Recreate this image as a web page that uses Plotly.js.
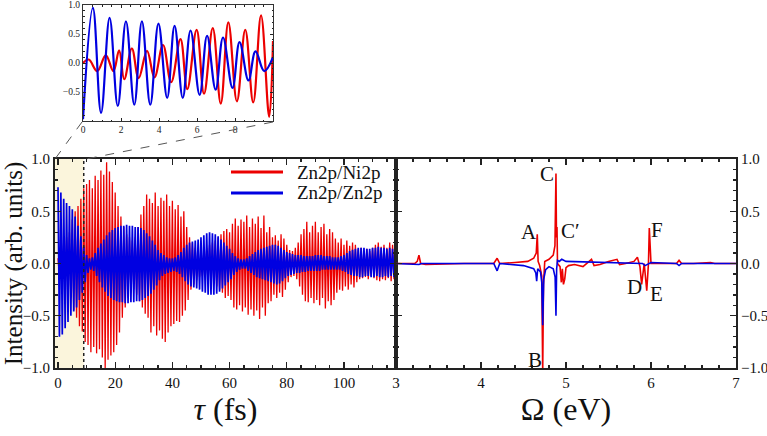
<!DOCTYPE html>
<html><head><meta charset="utf-8">
<script src="https://cdn.plot.ly/plotly-3.0.1.min.js"></script>
<style>html,body{margin:0;padding:0;background:#fff}#chart{width:767px;height:436px}</style>
</head><body><div id="chart"></div>
<script>
// ---------- data ----------
const tau_fs = [0,1,2,3,4,5,6,7,8,9,10,11,12,13,14,15,16,17,18,19,20,21,22,23,24,25,26,27,28,29,30,31,32,33,34,35,36,37,38,39,40,41,42,43,44,45,46,47,48,49,50,51,52,53,54,55,56,57,58,59,60,61,62,63,64,65,66,67,68,69,70,71,72,73,74,75,76,77,78,79,80,81,82,83,84,85,86,87,88,89,90,91,92,93,94,95,96,97,98,99,100,101,102,103,104,105,106,107,108,109,110,111,112,113,114,115,116,117,118];
// oscillation extremes (upper / lower) of each signal per sample
const znni_upper = [0.05,0.12,0.22,0.25,0.30,0.42,0.50,0.55,0.62,0.72,
 0.76,0.80,0.72,0.84,0.80,0.89,0.85,0.97,0.88,0.78,
 0.68,0.55,0.45,0.35,0.28,0.25,0.22,0.25,0.35,0.47,
 0.55,0.66,0.62,0.58,0.68,0.55,0.63,0.60,0.66,0.55,
 0.60,0.52,0.56,0.45,0.50,0.35,0.25,0.20,0.15,0.12,
 0.10,0.12,0.15,0.18,0.20,0.22,0.25,0.28,0.31,0.33,
 0.30,0.38,0.43,0.36,0.42,0.40,0.46,0.35,0.43,0.38,
 0.45,0.34,0.46,0.30,0.35,0.25,0.27,0.22,0.28,0.24,
 0.18,0.13,0.12,0.15,0.20,0.28,0.33,0.40,0.30,0.36,
 0.40,0.30,0.35,0.38,0.28,0.33,0.30,0.24,0.20,0.24,
 0.18,0.22,0.17,0.20,0.18,0.14,0.15,0.12,0.14,0.12,
 0.15,0.18,0.20,0.16,0.18,0.15,0.20,0.18,0.20];
const znni_lower = [-0.13,-0.15,-0.25,-0.26,-0.33,-0.45,-0.52,-0.60,-0.65,-0.75,
 -0.78,-0.85,-0.80,-0.86,-0.82,-0.90,-1.00,-0.92,-0.88,-0.85,
 -0.78,-0.66,-0.52,-0.42,-0.33,-0.28,-0.25,-0.30,-0.36,-0.42,
 -0.48,-0.52,-0.66,-0.60,-0.69,-0.64,-0.72,-0.75,-0.66,-0.60,
 -0.58,-0.55,-0.56,-0.50,-0.45,-0.35,-0.25,-0.20,-0.16,-0.13,
 -0.12,-0.13,-0.15,-0.18,-0.20,-0.22,-0.25,-0.28,-0.33,-0.31,
 -0.35,-0.42,-0.44,-0.40,-0.46,-0.42,-0.49,-0.44,-0.50,-0.45,
 -0.53,-0.42,-0.50,-0.38,-0.36,-0.30,-0.33,-0.28,-0.32,-0.25,
 -0.18,-0.13,-0.12,-0.15,-0.22,-0.30,-0.36,-0.37,-0.33,-0.38,
 -0.35,-0.40,-0.33,-0.43,-0.36,-0.40,-0.35,-0.28,-0.25,-0.26,
 -0.22,-0.25,-0.20,-0.23,-0.18,-0.15,-0.14,-0.13,-0.15,-0.12,
 -0.14,-0.16,-0.17,-0.15,-0.16,-0.14,-0.17,-0.15,-0.16];
const znzn_upper = [0.73,0.68,0.62,0.58,0.55,0.52,0.45,0.36,0.26,0.16,
 0.08,0.05,0.06,0.10,0.15,0.19,0.23,0.27,0.30,0.32,
 0.34,0.35,0.36,0.36,0.37,0.36,0.36,0.35,0.35,0.34,
 0.32,0.29,0.26,0.22,0.18,0.13,0.10,0.08,0.06,0.05,
 0.05,0.06,0.08,0.11,0.15,0.18,0.20,0.21,0.22,0.23,
 0.25,0.27,0.29,0.30,0.29,0.28,0.26,0.23,0.20,0.17,
 0.14,0.10,0.07,0.05,0.04,0.04,0.05,0.07,0.09,0.11,
 0.13,0.14,0.15,0.16,0.17,0.18,0.18,0.17,0.15,0.13,
 0.11,0.10,0.09,0.08,0.08,0.08,0.07,0.07,0.07,0.07,
 0.08,0.08,0.08,0.07,0.07,0.07,0.06,0.06,0.06,0.07,
 0.08,0.10,0.12,0.13,0.14,0.15,0.15,0.15,0.14,0.14,
 0.15,0.15,0.16,0.15,0.15,0.14,0.15,0.14,0.13];
const znzn_lower = [-0.70,-0.68,-0.62,-0.56,-0.50,-0.46,-0.42,-0.35,-0.28,-0.18,
 -0.09,-0.06,-0.07,-0.12,-0.18,-0.23,-0.27,-0.31,-0.33,-0.35,
 -0.36,-0.37,-0.37,-0.38,-0.38,-0.37,-0.37,-0.36,-0.36,-0.35,
 -0.33,-0.31,-0.29,-0.25,-0.21,-0.16,-0.12,-0.10,-0.09,-0.08,
 -0.07,-0.08,-0.10,-0.13,-0.17,-0.20,-0.22,-0.23,-0.24,-0.25,
 -0.27,-0.28,-0.30,-0.30,-0.30,-0.29,-0.27,-0.24,-0.21,-0.18,
 -0.15,-0.11,-0.08,-0.06,-0.05,-0.05,-0.07,-0.09,-0.11,-0.13,
 -0.14,-0.15,-0.16,-0.17,-0.18,-0.19,-0.20,-0.19,-0.17,-0.14,
 -0.12,-0.11,-0.10,-0.09,-0.09,-0.08,-0.08,-0.07,-0.07,-0.07,
 -0.07,-0.07,-0.06,-0.06,-0.06,-0.06,-0.06,-0.06,-0.06,-0.07,
 -0.08,-0.10,-0.11,-0.12,-0.12,-0.13,-0.13,-0.12,-0.12,-0.13,
 -0.13,-0.12,-0.13,-0.13,-0.12,-0.13,-0.12,-0.13,-0.12];

// inset: first 10 fs, extrema of each curve
const inset_tau_red = [0,0.3,0.75,1.2,1.6,1.9,2.17,2.57,2.93,3.37,3.76,4.21,4.64,5.13,5.49,5.98,6.37,6.83,7.25,7.65,8.1,8.54,8.96,9.37,9.8,10.0];
const inset_red     = [0.0,0.06,-0.14,0.13,-0.14,0.22,-0.28,0.25,-0.26,0.21,-0.25,0.31,-0.33,0.41,-0.45,0.57,-0.53,0.6,-0.7,0.7,-0.66,0.57,-0.68,0.82,-0.93,0.38];
const inset_tau_blue = [0,0.52,0.95,1.4,1.83,2.26,2.7,3.1,3.54,3.97,4.43,4.82,5.25,5.66,6.14,6.53,6.98,7.37,7.87,8.24,8.71,9.08,9.54,10.0];
const inset_blue     = [-0.97,0.95,-0.86,0.78,-0.74,0.72,-0.72,0.72,-0.72,0.68,-0.6,0.64,-0.6,0.56,-0.55,0.47,-0.46,0.44,-0.43,0.36,-0.3,0.2,-0.14,0.1];

// spectra
const omega_red = [3.0,3.22,3.25,3.27,3.29,3.35,3.8,4.15,4.19,4.22,4.4,4.55,4.62,4.65,4.662,4.672,4.69,4.715,4.726,4.735,4.75,4.8,4.85,4.87,4.882,4.888,4.894,4.9,4.93,4.945,4.957,4.97,4.985,5.0,5.03,5.1,5.2,5.3,5.33,5.4,5.5,5.6,5.63,5.7,5.8,5.84,5.87,5.89,5.92,5.95,5.97,5.98,6.0,6.1,6.3,6.33,6.36,6.5,6.7,6.75,7.0];
const spec_red  = [0,0,0.02,0.08,0.0,-0.01,0.0,0.0,0.05,0.0,0.01,0.02,0.05,0.1,0.28,0.02,-0.02,-0.12,-1.05,-0.2,0.02,0.04,0.08,0.17,0.86,0.25,0.35,0.0,-0.03,-0.18,-0.05,-0.2,-0.15,-0.04,-0.02,-0.01,-0.03,0.04,-0.02,-0.01,0.02,0.04,-0.01,0.0,0.02,0.06,-0.03,-0.2,0.0,-0.26,0.0,0.34,0.0,0.0,0.0,0.03,0.0,0.0,0.01,0.0,0.0];
const omega_blue = [3.0,3.27,3.3,4.15,4.19,4.22,4.5,4.62,4.645,4.655,4.667,4.7,4.715,4.726,4.738,4.76,4.8,4.85,4.872,4.882,4.89,4.9,4.92,4.95,5.0,5.5,5.9,5.93,6.0,6.3,6.33,6.36,7.0];
const spec_blue  = [0,-0.01,0,0,-0.07,0,-0.02,-0.05,-0.09,-0.17,-0.05,-0.08,-0.18,-0.59,-0.15,-0.06,-0.03,-0.05,-0.13,-0.5,-0.05,0.03,0.02,0.04,0.02,0.01,0.0,-0.02,0.01,0.0,-0.02,0.0,0.0];

const series_names = ['Zn2p/Ni2p', 'Zn2p/Zn2p'];
const peak_labels = ['A','B','C','C′','D','E','F'];
const tau_ticks = [0,20,40,60,80,100];
const inset_tau_ticks = [0,2,4,6,8];
const inset_int_ticks = [-0.5,0,0.5,1];

// ---------- drawing ----------
const RED = 'rgb(236,0,0)', BLUE = 'rgb(0,0,225)';
const FONT = 'Liberation Serif';
const W = 767, H = 436;
const px = v => v / W, py = v => 1 - v / H;

// each sample drawn as one oscillation: up to the upper extreme, down to the lower one
function zigzag(t, up, lo) {
  const x = [], y = [];
  for (let i = 0; i < t.length; i++) {
    x.push(t[i]); y.push(up[i]);
    x.push(t[i] + 0.5); y.push(lo[i]);
  }
  return {x, y};
}
const zr = zigzag(tau_fs, znni_upper, znni_lower);
const zb = zigzag(tau_fs, znzn_upper, znzn_lower);

const traces = [
  {x: zr.x, y: zr.y, name: series_names[0], type: 'scatter', mode: 'lines', line: {color: RED, width: 1.3}, xaxis: 'x', yaxis: 'y', hoverinfo: 'skip'},
  {x: zb.x, y: zb.y, name: series_names[1], type: 'scatter', mode: 'lines', line: {color: BLUE, width: 1.7}, xaxis: 'x', yaxis: 'y', hoverinfo: 'skip'},
  {x: omega_red, y: spec_red, name: series_names[0], type: 'scatter', mode: 'lines', line: {color: RED, width: 1.6}, xaxis: 'x2', yaxis: 'y2'},
  {x: omega_blue, y: spec_blue, name: series_names[1], type: 'scatter', mode: 'lines', line: {color: BLUE, width: 1.6}, xaxis: 'x2', yaxis: 'y2'},
  {x: inset_tau_red, y: inset_red, name: series_names[0], type: 'scatter', mode: 'lines', line: {color: RED, width: 2.2, shape: 'spline', smoothing: 1.1}, xaxis: 'x3', yaxis: 'y3'},
  {x: inset_tau_blue, y: inset_blue, name: series_names[1], type: 'scatter', mode: 'lines', line: {color: BLUE, width: 2.2, shape: 'spline', smoothing: 1.1}, xaxis: 'x3', yaxis: 'y3'}
];

const axBase = {showline: true, linecolor: '#222', linewidth: 2, mirror: 'ticks', ticks: 'inside', ticklen: 6, tickwidth: 1.3, tickcolor: '#222', showgrid: false, zeroline: false, tickfont: {family: FONT, size: 15, color: '#111'}};

const layout = {
  width: W, height: H, margin: {l: 0, r: 0, t: 0, b: 0},
  paper_bgcolor: '#fff', plot_bgcolor: 'rgba(0,0,0,0)', showlegend: false,
  font: {family: FONT, color: '#111'},
  xaxis: Object.assign({}, axBase, {domain: [px(55), px(396)], range: [-1.05, 118.2], anchor: 'y', tickvals: tau_ticks,
    minor: {dtick: 5, tick0: 0, ticklen: 3, ticks: 'inside', tickcolor: '#222'},
    title: {text: '<i>τ</i> (fs)', font: {family: FONT, size: 32}, standoff: 4}}),
  yaxis: Object.assign({}, axBase, {domain: [py(368), py(159)], range: [-1, 1], anchor: 'x', dtick: 0.5, tick0: 0, tickformat: '.1f',
    minor: {dtick: 0.1, ticklen: 3, ticks: 'inside', tickcolor: '#222'},
    title: {text: 'Intensity (arb. units)', font: {family: FONT, size: 25}, standoff: 2}}),
  xaxis2: Object.assign({}, axBase, {domain: [px(396), px(736)], range: [3, 7], anchor: 'y2', dtick: 1, tick0: 3,
    minor: {dtick: 0.2, ticklen: 3, ticks: 'inside', tickcolor: '#222'},
    title: {text: 'Ω (eV)', font: {family: FONT, size: 32}, standoff: 4}}),
  yaxis2: Object.assign({}, axBase, {domain: [py(368), py(159)], range: [-1, 1], anchor: 'x2', side: 'right', dtick: 0.5, tick0: 0, tickformat: '.1f',
    minor: {dtick: 0.1, ticklen: 3, ticks: 'inside', tickcolor: '#222'}}),
  xaxis3: Object.assign({}, axBase, {domain: [px(83), px(273)], range: [0, 10], anchor: 'y3', tickvals: inset_tau_ticks, linewidth: 1, ticklen: 3, tickwidth: 1, linecolor: '#333',
    tickfont: {family: FONT, size: 9.5, color: '#222'}, minor: {dtick: 0.5, ticklen: 1.5, ticks: 'inside'}}),
  yaxis3: Object.assign({}, axBase, {domain: [py(121), py(5)], range: [-1, 1], anchor: 'x3', tickvals: inset_int_ticks, tickformat: '.1f', linewidth: 1, ticklen: 3, tickwidth: 1, linecolor: '#333',
    tickfont: {family: FONT, size: 9.5, color: '#222'}, minor: {dtick: 0.1, ticklen: 1.5, ticks: 'inside'}}),
  shapes: [
    {type: 'rect', xref: 'x', yref: 'y', x0: -1.05, x1: 9, y0: -1, y1: 1, fillcolor: 'rgb(251,245,220)', line: {width: 0}, layer: 'below'},
    {type: 'line', xref: 'x', yref: 'y', x0: 9, x1: 9, y0: -1, y1: 1, line: {color: '#222', width: 1.5, dash: 'dot'}},
    {type: 'line', xref: 'paper', yref: 'paper', x0: px(82), y0: py(122), x1: px(55), y1: py(159), line: {color: '#555', width: 1, dash: 'dash'}},
    {type: 'line', xref: 'paper', yref: 'paper', x0: px(273), y0: py(122), x1: px(86), y1: py(159), line: {color: '#555', width: 1, dash: 'dash'}},
    {type: 'line', xref: 'paper', yref: 'paper', x0: px(231), x1: px(283), y0: py(172), y1: py(172), line: {color: RED, width: 3}},
    {type: 'line', xref: 'paper', yref: 'paper', x0: px(231), x1: px(283), y0: py(193), y1: py(193), line: {color: BLUE, width: 3}}
  ],
  annotations: [
    {xref: 'paper', yref: 'paper', x: px(295), y: py(172), xanchor: 'left', yanchor: 'middle', text: series_names[0], showarrow: false, font: {family: FONT, size: 19, color: '#111'}},
    {xref: 'paper', yref: 'paper', x: px(295), y: py(193), xanchor: 'left', yanchor: 'middle', text: series_names[1], showarrow: false, font: {family: FONT, size: 19, color: '#111'}},
    {xref: 'x2', yref: 'y2', x: 4.565, y: 0.30, text: peak_labels[0], showarrow: false, font: {family: FONT, size: 21}},
    {xref: 'x2', yref: 'y2', x: 4.635, y: -0.92, text: peak_labels[1], showarrow: false, font: {family: FONT, size: 21}},
    {xref: 'x2', yref: 'y2', x: 4.776, y: 0.86, text: peak_labels[2], showarrow: false, font: {family: FONT, size: 21}},
    {xref: 'x2', yref: 'y2', x: 5.05, y: 0.31, text: peak_labels[3], showarrow: false, font: {family: FONT, size: 21}},
    {xref: 'x2', yref: 'y2', x: 5.80, y: -0.225, text: peak_labels[4], showarrow: false, font: {family: FONT, size: 21}},
    {xref: 'x2', yref: 'y2', x: 6.06, y: -0.29, text: peak_labels[5], showarrow: false, font: {family: FONT, size: 21}},
    {xref: 'x2', yref: 'y2', x: 6.07, y: 0.32, text: peak_labels[6], showarrow: false, font: {family: FONT, size: 21}}
  ]
};

Plotly.newPlot('chart', traces, layout, {staticPlot: true, displayModeBar: false});
</script>
</body></html>
